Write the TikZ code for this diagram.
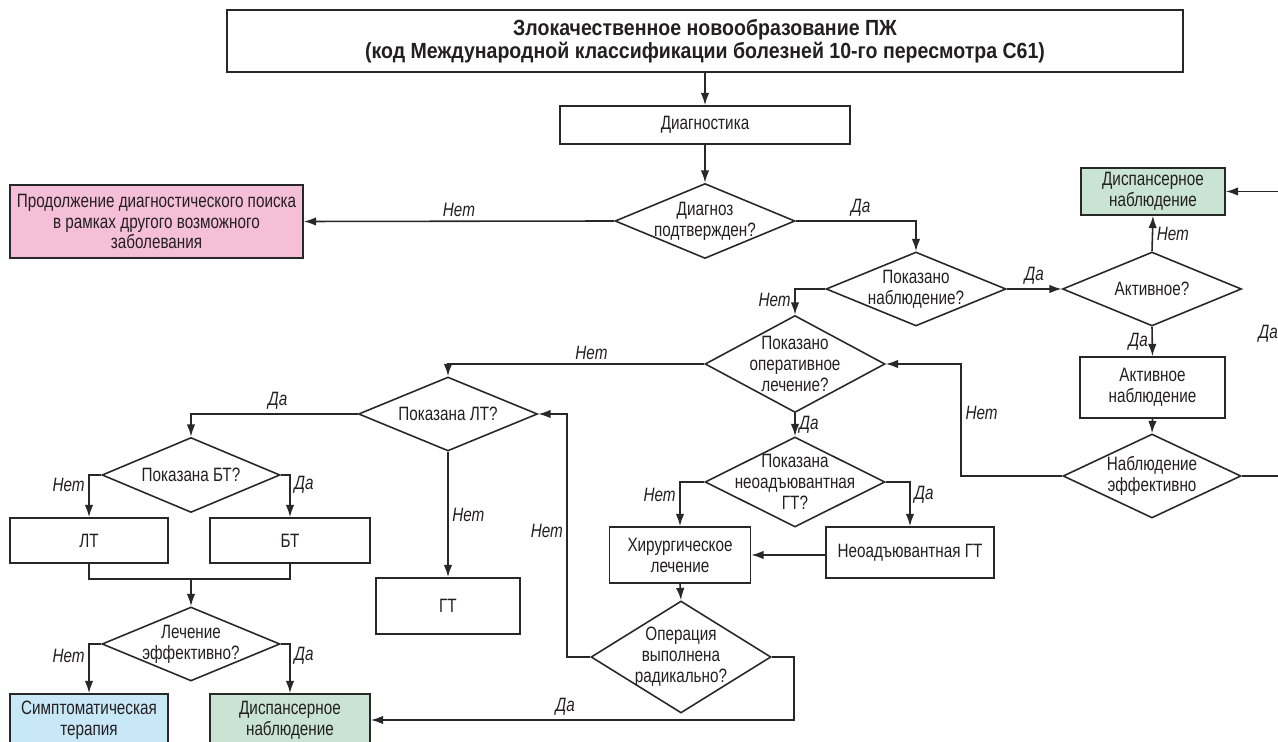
\documentclass[tikz,border=0pt]{standalone}
\usepackage{fontspec}
\setmainfont{Liberation Sans}[FakeStretch=0.79, BoldFeatures={FakeStretch=0.89}]
\usepackage{tikz}
\usetikzlibrary{arrows.meta}
\usetikzlibrary{shapes.geometric}
\definecolor{ln}{RGB}{40,40,40}
\definecolor{txt}{RGB}{35,31,32}
\definecolor{pinkbox}{RGB}{245,191,216}
\definecolor{greenbox}{RGB}{201,228,210}
\definecolor{bluebox}{RGB}{200,232,248}
\newcommand{\bodyfnt}{\fontsize{11}{11.9}\selectfont}
\newcommand{\titlefnt}{\fontsize{12.5}{11.5}\selectfont\bfseries}
\tikzstyle{blk}=[draw=ln, line width=0.9pt, text=txt, align=center, inner sep=0pt, font=\bodyfnt]
\tikzstyle{cnd}=[diamond, draw=ln, line width=0.9pt, text=txt, align=center, inner sep=-5pt, font=\bodyfnt]
\tikzstyle{lbl}=[text=txt, font=\bodyfnt\itshape, inner sep=2pt]

\begin{document}
\begin{tikzpicture}[x=0.02cm, y=-0.02cm, >={Latex[length=7pt,width=4.8pt]}, line width=0.9pt, ln]
    \useasboundingbox (0,0) rectangle (1278,742);
    \clip (0,0) rectangle (1278,742);
    % boxes
    \node [blk, font=\titlefnt, minimum width=19.12cm, minimum height=1.24cm] (title) at (705,41) {Злокачественное новообразование ПЖ\\(код Международной классификации болезней 10-го пересмотра C61)};
    \node [blk, minimum width=5.8cm, minimum height=0.76cm] (diag) at (705,125) {Диагностика};
    \node [blk, fill=pinkbox, minimum width=5.86cm, minimum height=1.46cm] (cont) at (156.5,221.5) {Продолжение диагностического поиска\\в рамках другого возможного\\заболевания};
    \node [blk, fill=greenbox, minimum width=2.88cm, minimum height=0.94cm] (disp1) at (1153,191.5) {Диспансерное\\наблюдение};
    \node [blk, minimum width=2.9cm, minimum height=1.22cm] (actobs) at (1152.5,387.5) {Активное\\наблюдение};
    \node [blk, minimum width=2.82cm, minimum height=1.12cm] (surg) at (680,555) {Хирургическое\\лечение};
    \node [blk, minimum width=3.36cm, minimum height=1.02cm] (neo) at (910,552.5) {Неоадъювантная ГТ};
    \node [blk, minimum width=2.88cm, minimum height=1.12cm] (gt) at (448,606) {ГТ};
    \node [blk, minimum width=3.16cm, minimum height=0.9cm] (lt) at (89,540.5) {ЛТ};
    \node [blk, minimum width=3.2cm, minimum height=0.9cm] (bt) at (290,540.5) {БТ};
    \node [blk, fill=bluebox, minimum width=3.16cm, minimum height=1.04cm] (symp) at (89,720) {Симптоматическая\\терапия};
    \node [blk, fill=greenbox, minimum width=3.2cm, minimum height=1.04cm] (disp2) at (290,720) {Диспансерное\\наблюдение};
    % decisions
    \node [cnd, minimum width=3.6cm, minimum height=1.5cm, aspect=2.4] (d1) at (705,221) {Диагноз\\подтвержден?};
    \node [cnd, minimum width=3.6cm, minimum height=1.48cm, aspect=2.4] (d2) at (916,289) {Показано\\наблюдение?};
    \node [cnd, minimum width=3.58cm, minimum height=1.48cm, aspect=2.4] (act) at (1152,289) {Активное?};
    \node [cnd, minimum width=3.56cm, minimum height=1.68cm, aspect=2.1] (d6) at (1152,476) {Наблюдение\\эффективно};
    \node [cnd, minimum width=3.6cm, minimum height=1.94cm, aspect=1.85] (d3) at (795,364) {Показано\\оперативное\\лечение?};
    \node [cnd, minimum width=3.6cm, minimum height=1.8cm, aspect=2] (d4) at (795,482) {Показана\\неоадъювантная\\ГТ?};
    \node [cnd, minimum width=3.6cm, minimum height=2.24cm, aspect=1.6] (d5) at (681,657) {Операция\\выполнена\\радикально?};
    \node [cnd, minimum width=3.58cm, minimum height=1.48cm, aspect=2.4] (d7) at (448,414) {Показана ЛТ?};
    \node [cnd, minimum width=3.56cm, minimum height=1.5cm, aspect=2.4] (d8) at (191,475) {Показана БТ?};
    \node [cnd, minimum width=3.56cm, minimum height=1.48cm, aspect=2.4] (d9) at (191,644) {Лечение\\эффективно?};
    \coordinate (mrg) at (191,579);
    \coordinate (redge) at (1290,476);
    % connectors
    \draw[->] (title) -- (diag);
    \draw[->] (diag) -- (d1);
    \draw[->] (d1.west) -- node[lbl, above] {Нет} (cont.east);
    \draw[->] (d1.east) -| node[lbl, pos=0.27, above] {Да} (d2.north);
    \draw[->] (d2.east) -- node[lbl, above] {Да} (act.west);
    \draw[->] (act.north) -- node[lbl, right] {Нет} (disp1.south);
    \draw[->] (act.south) -- node[lbl, left] {Да} (actobs.north);
    \draw[->] (actobs.south) -- (d6.north);
    \draw[->] (d6.west) -- ++(-101,0) |- node[lbl, pos=0.28, right] {Нет} (d3.east);
    \draw[->] (d6.east) -- (redge) |- node[lbl, pos=0.25, left, xshift=-4.5pt] {Да} (disp1.east);
    \draw[->] (d2.west) -| node[lbl, pos=0.72, left] {Нет} (d3.north);
    \draw[->] (d3.west) -| node[lbl, pos=0.22, above] {Нет} (d7.north);
    \draw[->] (d3.south) -- node[lbl, right] {Да} (d4.north);
    \draw[->] (d4.west) -| node[lbl, pos=0.65, left] {Нет} (surg.north);
    \draw[->] (d4.east) -| node[lbl, pos=0.65, right] {Да} (neo.north);
    \draw[->] (neo.west |- surg) -- (surg.east);
    \draw[->] (surg.south) -- (d5.north);
    \draw[->] (d5.west) -- ++(-23,0) |- node[lbl, pos=0.26, left] {Нет} (d7.east);
    \draw[->] (d5.east) -- ++(22,0) |- node[lbl, pos=0.77, above] {Да} (disp2.east);
    \draw[->] (d7.west) -| node[lbl, pos=0.24, above] {Да} (d8.north);
    \draw[->] (d7.south) -- node[lbl, right] {Нет} (gt.north);
    \draw[->] (d8.west) -| node[lbl, pos=0.62, left] {Нет} (lt.north);
    \draw[->] (d8.east) -| node[lbl, pos=0.62, right] {Да} (bt.north);
    \draw (lt.south) |- (mrg) -| (bt.south);
    \draw[->] (mrg) -- (d9.north);
    \draw[->] (d9.west) -| node[lbl, pos=0.62, left] {Нет} (symp.north);
    \draw[->] (d9.east) -| node[lbl, pos=0.62, right] {Да} (disp2.north);
\end{tikzpicture}
\end{document}
